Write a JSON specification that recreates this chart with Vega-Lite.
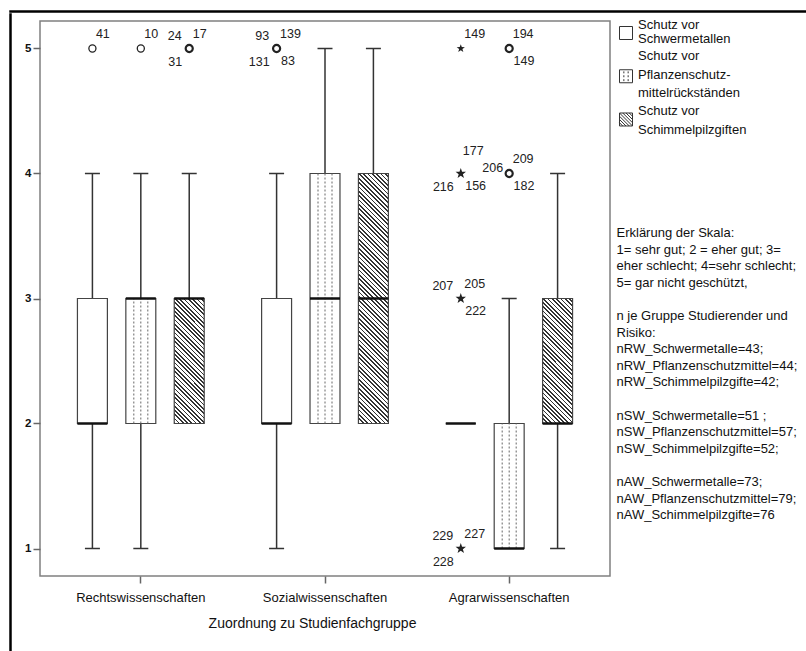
{
  "$schema": "https://vega.github.io/schema/vega-lite/v6.json",
  "padding": {"left": 9, "top": 10, "right": 0, "bottom": 0},
  "background": "white",
  "config": {
    "font": "Liberation Sans",
    "view": {"stroke": "#808080", "strokeWidth": 1.5},
    "axis": {"grid": false}
  },
  "datasets": {
    "box": [
      {"g": "Rechtswissenschaften", "s": "Schwermetalle", "lo": 1, "q1": 2, "med": 2, "q3": 3, "hi": 4},
      {"g": "Rechtswissenschaften", "s": "Pflanzenschutzmittel", "lo": 1, "q1": 2, "med": 3, "q3": 3, "hi": 4},
      {"g": "Rechtswissenschaften", "s": "Schimmelpilzgifte", "lo": 2, "q1": 2, "med": 3, "q3": 3, "hi": 4},
      {"g": "Sozialwissenschaften", "s": "Schwermetalle", "lo": 1, "q1": 2, "med": 2, "q3": 3, "hi": 4},
      {"g": "Sozialwissenschaften", "s": "Pflanzenschutzmittel", "lo": 2, "q1": 2, "med": 3, "q3": 4, "hi": 5},
      {"g": "Sozialwissenschaften", "s": "Schimmelpilzgifte", "lo": 2, "q1": 2, "med": 3, "q3": 4, "hi": 5},
      {"g": "Agrarwissenschaften", "s": "Schwermetalle", "lo": 2, "q1": 2, "med": 2, "q3": 2, "hi": 2},
      {"g": "Agrarwissenschaften", "s": "Pflanzenschutzmittel", "lo": 1, "q1": 1, "med": 1, "q3": 2, "hi": 3},
      {"g": "Agrarwissenschaften", "s": "Schimmelpilzgifte", "lo": 1, "q1": 2, "med": 2, "q3": 3, "hi": 4}
    ],
    "cases": [
      {"g": "Rechtswissenschaften", "s": "Schwermetalle", "v": 5, "kind": "o", "id": "41", "pos": "ur"},
      {"g": "Rechtswissenschaften", "s": "Pflanzenschutzmittel", "v": 5, "kind": "o", "id": "10", "pos": "ur"},
      {"g": "Rechtswissenschaften", "s": "Schimmelpilzgifte", "v": 5, "kind": "o", "id": "24", "pos": "ul"},
      {"g": "Rechtswissenschaften", "s": "Schimmelpilzgifte", "v": 5, "kind": "o", "id": "17", "pos": "ur"},
      {"g": "Rechtswissenschaften", "s": "Schimmelpilzgifte", "v": 5, "kind": "o", "id": "31", "pos": "ll"},
      {"g": "Sozialwissenschaften", "s": "Schwermetalle", "v": 5, "kind": "o", "id": "93", "pos": "ul"},
      {"g": "Sozialwissenschaften", "s": "Schwermetalle", "v": 5, "kind": "o", "id": "139", "pos": "ur"},
      {"g": "Sozialwissenschaften", "s": "Schwermetalle", "v": 5, "kind": "o", "id": "131", "pos": "ll"},
      {"g": "Sozialwissenschaften", "s": "Schwermetalle", "v": 5, "kind": "o", "id": "83", "pos": "lr"},
      {"g": "Agrarwissenschaften", "s": "Schwermetalle", "v": 5, "kind": "*", "id": "149", "pos": "ur"},
      {"g": "Agrarwissenschaften", "s": "Schwermetalle", "v": 4, "kind": "*", "id": "177", "pos": "top"},
      {"g": "Agrarwissenschaften", "s": "Schwermetalle", "v": 4, "kind": "*", "id": "216", "pos": "ll"},
      {"g": "Agrarwissenschaften", "s": "Schwermetalle", "v": 4, "kind": "*", "id": "156", "pos": "lr"},
      {"g": "Agrarwissenschaften", "s": "Schwermetalle", "v": 3, "kind": "*", "id": "207", "pos": "ul"},
      {"g": "Agrarwissenschaften", "s": "Schwermetalle", "v": 3, "kind": "*", "id": "205", "pos": "ur"},
      {"g": "Agrarwissenschaften", "s": "Schwermetalle", "v": 3, "kind": "*", "id": "222", "pos": "lr"},
      {"g": "Agrarwissenschaften", "s": "Schwermetalle", "v": 1, "kind": "*", "id": "229", "pos": "ul"},
      {"g": "Agrarwissenschaften", "s": "Schwermetalle", "v": 1, "kind": "*", "id": "227", "pos": "ur"},
      {"g": "Agrarwissenschaften", "s": "Schwermetalle", "v": 1, "kind": "*", "id": "228", "pos": "ll"},
      {"g": "Agrarwissenschaften", "s": "Pflanzenschutzmittel", "v": 5, "kind": "o", "id": "194", "pos": "ur"},
      {"g": "Agrarwissenschaften", "s": "Pflanzenschutzmittel", "v": 5, "kind": "o", "id": "149", "pos": "lr"},
      {"g": "Agrarwissenschaften", "s": "Pflanzenschutzmittel", "v": 4, "kind": "o", "id": "206", "pos": "l"},
      {"g": "Agrarwissenschaften", "s": "Pflanzenschutzmittel", "v": 4, "kind": "o", "id": "209", "pos": "ur"},
      {"g": "Agrarwissenschaften", "s": "Pflanzenschutzmittel", "v": 4, "kind": "o", "id": "182", "pos": "lr"}
    ],
    "legend": [
      {"s": "Schwermetalle", "label": "Schutz vor|Schwermetallen"},
      {"s": "Pflanzenschutzmittel", "label": "Schutz vor|Pflanzenschutz-|mittelrückständen"},
      {"s": "Schimmelpilzgifte", "label": "Schutz vor|Schimmelpilzgiften"}
    ],
    "expl": [
      {"i": 0, "t": "Erklärung der Skala:"},
      {"i": 1, "t": "1= sehr gut; 2 = eher gut; 3="},
      {"i": 2, "t": "eher schlecht; 4=sehr schlecht;"},
      {"i": 3, "t": "5= gar nicht geschützt,"},
      {"i": 4, "t": ""},
      {"i": 5, "t": "n je Gruppe Studierender und"},
      {"i": 6, "t": "Risiko:"},
      {"i": 7, "t": "nRW_Schwermetalle=43;"},
      {"i": 8, "t": "nRW_Pflanzenschutzmittel=44;"},
      {"i": 9, "t": "nRW_Schimmelpilzgifte=42;"},
      {"i": 10, "t": ""},
      {"i": 11, "t": "nSW_Schwermetalle=51 ;"},
      {"i": 12, "t": "nSW_Pflanzenschutzmittel=57;"},
      {"i": 13, "t": "nSW_Schimmelpilzgifte=52;"},
      {"i": 14, "t": ""},
      {"i": 15, "t": "nAW_Schwermetalle=73;"},
      {"i": 16, "t": "nAW_Pflanzenschutzmittel=79;"},
      {"i": 17, "t": "nAW_Schimmelpilzgifte=76"}
    ]
  },
  "spacing": 0,
  "vconcat": [
    {
      "width": 797, "height": 1,
      "view": {"stroke": "#000", "strokeWidth": 1.5},
      "data": {"values": []},
      "mark": "text",
      "encoding": {}
    },
    {
      "spacing": 0,
      "hconcat": [
        {
          "width": 1, "height": 640,
          "view": {"stroke": "#000", "strokeWidth": 1.5},
          "data": {"values": []},
          "mark": "text",
          "encoding": {}
        },
        {
          "spacing": 3,
          "vconcat": [
            {
              "width": 1, "height": 1,
              "view": {"stroke": null},
              "data": {"values": []},
              "mark": "text",
              "encoding": {}
            },
            {
              "spacing": 5,
              "hconcat": [
                {
                  "width": 570,
                  "height": 555,
                  "encoding": {
                    "x": {
                      "field": "g", "type": "nominal",
                      "scale": {"domain": ["Rechtswissenschaften", "Sozialwissenschaften", "Agrarwissenschaften"], "paddingInner": 0, "paddingOuter": 0.0474},
                      "axis": {
                        "title": "Zuordnung zu Studienfachgruppe", "labelAngle": 0, "domain": false,
                        "tickSize": 7, "tickColor": "#666", "tickWidth": 1.5,
                        "labelFontSize": 13, "labelColor": "#111", "labelPadding": 8,
                        "titleFontSize": 14, "titleFontWeight": "normal", "titleColor": "#111", "titlePadding": 12, "titleX": 272
                      }
                    }
                  },
                  "layer": [
                    {
                      "data": {"name": "box"},
                      "transform": [{"filter": "datum.lo < datum.q1"}],
                      "mark": {"type": "rule", "color": "#333", "strokeWidth": 1.5},
                      "encoding": {
                        "xOffset": {"field": "s", "type": "nominal", "scale": {"domain": ["Schwermetalle", "Pflanzenschutzmittel", "Schimmelpilzgifte"], "paddingInner": 0.381, "paddingOuter": 0.593}},
                        "y": {"field": "lo", "type": "quantitative", "scale": {"domain": [0.78, 5.22], "nice": false, "zero": false},
                          "axis": {"title": null, "values": [1, 2, 3, 4, 5], "format": "d", "domain": false, "minExtent": 27, "tickSize": 7, "tickColor": "#666", "tickWidth": 1.5, "labelFontWeight": "bold", "labelFontSize": 11.5, "labelColor": "#111", "labelPadding": 2}},
                        "y2": {"field": "q1"}
                      }
                    },
                    {
                      "data": {"name": "box"},
                      "transform": [{"filter": "datum.hi > datum.q3"}],
                      "mark": {"type": "rule", "color": "#333", "strokeWidth": 1.5},
                      "encoding": {
                        "xOffset": {"field": "s", "type": "nominal"},
                        "y": {"field": "q3", "type": "quantitative"},
                        "y2": {"field": "hi"}
                      }
                    },
                    {
                      "data": {"name": "box"},
                      "transform": [{"filter": "datum.lo < datum.q1"}],
                      "mark": {"type": "tick", "color": "#333", "thickness": 1.5, "size": 15, "opacity": 1},
                      "encoding": {
                        "xOffset": {"field": "s", "type": "nominal"},
                        "y": {"field": "lo", "type": "quantitative"}
                      }
                    },
                    {
                      "data": {"name": "box"},
                      "transform": [{"filter": "datum.hi > datum.q3"}],
                      "mark": {"type": "tick", "color": "#333", "thickness": 1.5, "size": 15, "opacity": 1},
                      "encoding": {
                        "xOffset": {"field": "s", "type": "nominal"},
                        "y": {"field": "hi", "type": "quantitative"}
                      }
                    },
                    {
                      "data": {"name": "box"},
                      "transform": [{"filter": "datum.s !== 'Schimmelpilzgifte'"}],
                      "mark": {"type": "bar", "fill": "white", "stroke": "#444", "strokeWidth": 1.2},
                      "encoding": {
                        "xOffset": {"field": "s", "type": "nominal"},
                        "y": {"field": "q1", "type": "quantitative"},
                        "y2": {"field": "q3"}
                      }
                    },
                    {
                      "data": {"name": "box"},
                      "transform": [{"filter": "datum.s === 'Pflanzenschutzmittel'"}],
                      "mark": {"type": "rule", "color": "#666", "strokeWidth": 1, "strokeDash": [2, 2], "xOffset": -7},
                      "encoding": {"y": {"field": "q1", "type": "quantitative"}, "y2": {"field": "q3"}}
                    },
                    {
                      "data": {"name": "box"},
                      "transform": [{"filter": "datum.s === 'Pflanzenschutzmittel'"}],
                      "mark": {"type": "rule", "color": "#666", "strokeWidth": 1, "strokeDash": [2, 2]},
                      "encoding": {"y": {"field": "q1", "type": "quantitative"}, "y2": {"field": "q3"}}
                    },
                    {
                      "data": {"name": "box"},
                      "transform": [{"filter": "datum.s === 'Pflanzenschutzmittel'"}],
                      "mark": {"type": "rule", "color": "#666", "strokeWidth": 1, "strokeDash": [2, 2], "xOffset": 7},
                      "encoding": {"y": {"field": "q1", "type": "quantitative"}, "y2": {"field": "q3"}}
                    },
                    {
                      "data": {"name": "box"},
                      "transform": [{"filter": "datum.s === 'Schimmelpilzgifte' && datum.q3 - datum.q1 === 1"}],
                      "mark": {"type": "bar", "stroke": "#444", "strokeWidth": 1.2,
                        "fill": {"gradient": "linear", "x1": 0, "y1": 1, "x2": 0.2814, "y2": -0.1725, "stops": [
{"offset":0,"color":"#333"},{"offset":0.0111,"color":"#333"},{"offset":0.0111,"color":"#fff"},{"offset":0.0278,"color":"#fff"},
{"offset":0.0278,"color":"#333"},{"offset":0.0389,"color":"#333"},{"offset":0.0389,"color":"#fff"},{"offset":0.0556,"color":"#fff"},
{"offset":0.0556,"color":"#333"},{"offset":0.0667,"color":"#333"},{"offset":0.0667,"color":"#fff"},{"offset":0.0833,"color":"#fff"},
{"offset":0.0833,"color":"#333"},{"offset":0.0944,"color":"#333"},{"offset":0.0944,"color":"#fff"},{"offset":0.1111,"color":"#fff"},
{"offset":0.1111,"color":"#333"},{"offset":0.1222,"color":"#333"},{"offset":0.1222,"color":"#fff"},{"offset":0.1389,"color":"#fff"},
{"offset":0.1389,"color":"#333"},{"offset":0.15,"color":"#333"},{"offset":0.15,"color":"#fff"},{"offset":0.1667,"color":"#fff"},
{"offset":0.1667,"color":"#333"},{"offset":0.1778,"color":"#333"},{"offset":0.1778,"color":"#fff"},{"offset":0.1944,"color":"#fff"},
{"offset":0.1944,"color":"#333"},{"offset":0.2056,"color":"#333"},{"offset":0.2056,"color":"#fff"},{"offset":0.2222,"color":"#fff"},
{"offset":0.2222,"color":"#333"},{"offset":0.2333,"color":"#333"},{"offset":0.2333,"color":"#fff"},{"offset":0.25,"color":"#fff"},
{"offset":0.25,"color":"#333"},{"offset":0.2611,"color":"#333"},{"offset":0.2611,"color":"#fff"},{"offset":0.2778,"color":"#fff"},
{"offset":0.2778,"color":"#333"},{"offset":0.2889,"color":"#333"},{"offset":0.2889,"color":"#fff"},{"offset":0.3056,"color":"#fff"},
{"offset":0.3056,"color":"#333"},{"offset":0.3167,"color":"#333"},{"offset":0.3167,"color":"#fff"},{"offset":0.3333,"color":"#fff"},
{"offset":0.3333,"color":"#333"},{"offset":0.3444,"color":"#333"},{"offset":0.3444,"color":"#fff"},{"offset":0.3611,"color":"#fff"},
{"offset":0.3611,"color":"#333"},{"offset":0.3722,"color":"#333"},{"offset":0.3722,"color":"#fff"},{"offset":0.3889,"color":"#fff"},
{"offset":0.3889,"color":"#333"},{"offset":0.4,"color":"#333"},{"offset":0.4,"color":"#fff"},{"offset":0.4167,"color":"#fff"},
{"offset":0.4167,"color":"#333"},{"offset":0.4278,"color":"#333"},{"offset":0.4278,"color":"#fff"},{"offset":0.4444,"color":"#fff"},
{"offset":0.4444,"color":"#333"},{"offset":0.4556,"color":"#333"},{"offset":0.4556,"color":"#fff"},{"offset":0.4722,"color":"#fff"},
{"offset":0.4722,"color":"#333"},{"offset":0.4833,"color":"#333"},{"offset":0.4833,"color":"#fff"},{"offset":0.5,"color":"#fff"},
{"offset":0.5,"color":"#333"},{"offset":0.5111,"color":"#333"},{"offset":0.5111,"color":"#fff"},{"offset":0.5278,"color":"#fff"},
{"offset":0.5278,"color":"#333"},{"offset":0.5389,"color":"#333"},{"offset":0.5389,"color":"#fff"},{"offset":0.5556,"color":"#fff"},
{"offset":0.5556,"color":"#333"},{"offset":0.5667,"color":"#333"},{"offset":0.5667,"color":"#fff"},{"offset":0.5833,"color":"#fff"},
{"offset":0.5833,"color":"#333"},{"offset":0.5944,"color":"#333"},{"offset":0.5944,"color":"#fff"},{"offset":0.6111,"color":"#fff"},
{"offset":0.6111,"color":"#333"},{"offset":0.6222,"color":"#333"},{"offset":0.6222,"color":"#fff"},{"offset":0.6389,"color":"#fff"},
{"offset":0.6389,"color":"#333"},{"offset":0.65,"color":"#333"},{"offset":0.65,"color":"#fff"},{"offset":0.6667,"color":"#fff"},
{"offset":0.6667,"color":"#333"},{"offset":0.6778,"color":"#333"},{"offset":0.6778,"color":"#fff"},{"offset":0.6944,"color":"#fff"},
{"offset":0.6944,"color":"#333"},{"offset":0.7056,"color":"#333"},{"offset":0.7056,"color":"#fff"},{"offset":0.7222,"color":"#fff"},
{"offset":0.7222,"color":"#333"},{"offset":0.7333,"color":"#333"},{"offset":0.7333,"color":"#fff"},{"offset":0.75,"color":"#fff"},
{"offset":0.75,"color":"#333"},{"offset":0.7611,"color":"#333"},{"offset":0.7611,"color":"#fff"},{"offset":0.7778,"color":"#fff"},
{"offset":0.7778,"color":"#333"},{"offset":0.7889,"color":"#333"},{"offset":0.7889,"color":"#fff"},{"offset":0.8056,"color":"#fff"},
{"offset":0.8056,"color":"#333"},{"offset":0.8167,"color":"#333"},{"offset":0.8167,"color":"#fff"},{"offset":0.8333,"color":"#fff"},
{"offset":0.8333,"color":"#333"},{"offset":0.8444,"color":"#333"},{"offset":0.8444,"color":"#fff"},{"offset":0.8611,"color":"#fff"},
{"offset":0.8611,"color":"#333"},{"offset":0.8722,"color":"#333"},{"offset":0.8722,"color":"#fff"},{"offset":0.8889,"color":"#fff"},
{"offset":0.8889,"color":"#333"},{"offset":0.9,"color":"#333"},{"offset":0.9,"color":"#fff"},{"offset":0.9167,"color":"#fff"},
{"offset":0.9167,"color":"#333"},{"offset":0.9278,"color":"#333"},{"offset":0.9278,"color":"#fff"},{"offset":0.9444,"color":"#fff"},
{"offset":0.9444,"color":"#333"},{"offset":0.9556,"color":"#333"},{"offset":0.9556,"color":"#fff"},{"offset":0.9722,"color":"#fff"},
{"offset":0.9722,"color":"#333"},{"offset":0.9833,"color":"#333"},{"offset":0.9833,"color":"#fff"},{"offset":1,"color":"#fff"}
                        ]}},
                      "encoding": {
                        "xOffset": {"field": "s", "type": "nominal"},
                        "y": {"field": "q1", "type": "quantitative"},
                        "y2": {"field": "q3"}
                      }
                    },
                    {
                      "data": {"name": "box"},
                      "transform": [{"filter": "datum.s === 'Schimmelpilzgifte' && datum.q3 - datum.q1 === 2"}],
                      "mark": {"type": "bar", "stroke": "#444", "strokeWidth": 1.2,
                        "fill": {"gradient": "linear", "x1": 0, "y1": 1, "x2": 0.1325, "y2": -0.1041, "stops": [
{"offset":0,"color":"#333"},{"offset":0.00625,"color":"#333"},{"offset":0.00625,"color":"#fff"},{"offset":0.015625,"color":"#fff"},
{"offset":0.015625,"color":"#333"},{"offset":0.021875,"color":"#333"},{"offset":0.021875,"color":"#fff"},{"offset":0.03125,"color":"#fff"},
{"offset":0.03125,"color":"#333"},{"offset":0.0375,"color":"#333"},{"offset":0.0375,"color":"#fff"},{"offset":0.046875,"color":"#fff"},
{"offset":0.046875,"color":"#333"},{"offset":0.053125,"color":"#333"},{"offset":0.053125,"color":"#fff"},{"offset":0.0625,"color":"#fff"},
{"offset":0.0625,"color":"#333"},{"offset":0.06875,"color":"#333"},{"offset":0.06875,"color":"#fff"},{"offset":0.078125,"color":"#fff"},
{"offset":0.078125,"color":"#333"},{"offset":0.084375,"color":"#333"},{"offset":0.084375,"color":"#fff"},{"offset":0.09375,"color":"#fff"},
{"offset":0.09375,"color":"#333"},{"offset":0.1,"color":"#333"},{"offset":0.1,"color":"#fff"},{"offset":0.109375,"color":"#fff"},
{"offset":0.109375,"color":"#333"},{"offset":0.115625,"color":"#333"},{"offset":0.115625,"color":"#fff"},{"offset":0.125,"color":"#fff"},
{"offset":0.125,"color":"#333"},{"offset":0.13125,"color":"#333"},{"offset":0.13125,"color":"#fff"},{"offset":0.140625,"color":"#fff"},
{"offset":0.140625,"color":"#333"},{"offset":0.146875,"color":"#333"},{"offset":0.146875,"color":"#fff"},{"offset":0.15625,"color":"#fff"},
{"offset":0.15625,"color":"#333"},{"offset":0.1625,"color":"#333"},{"offset":0.1625,"color":"#fff"},{"offset":0.171875,"color":"#fff"},
{"offset":0.171875,"color":"#333"},{"offset":0.178125,"color":"#333"},{"offset":0.178125,"color":"#fff"},{"offset":0.1875,"color":"#fff"},
{"offset":0.1875,"color":"#333"},{"offset":0.19375,"color":"#333"},{"offset":0.19375,"color":"#fff"},{"offset":0.203125,"color":"#fff"},
{"offset":0.203125,"color":"#333"},{"offset":0.209375,"color":"#333"},{"offset":0.209375,"color":"#fff"},{"offset":0.21875,"color":"#fff"},
{"offset":0.21875,"color":"#333"},{"offset":0.225,"color":"#333"},{"offset":0.225,"color":"#fff"},{"offset":0.234375,"color":"#fff"},
{"offset":0.234375,"color":"#333"},{"offset":0.240625,"color":"#333"},{"offset":0.240625,"color":"#fff"},{"offset":0.25,"color":"#fff"},
{"offset":0.25,"color":"#333"},{"offset":0.25625,"color":"#333"},{"offset":0.25625,"color":"#fff"},{"offset":0.265625,"color":"#fff"},
{"offset":0.265625,"color":"#333"},{"offset":0.271875,"color":"#333"},{"offset":0.271875,"color":"#fff"},{"offset":0.28125,"color":"#fff"},
{"offset":0.28125,"color":"#333"},{"offset":0.2875,"color":"#333"},{"offset":0.2875,"color":"#fff"},{"offset":0.296875,"color":"#fff"},
{"offset":0.296875,"color":"#333"},{"offset":0.303125,"color":"#333"},{"offset":0.303125,"color":"#fff"},{"offset":0.3125,"color":"#fff"},
{"offset":0.3125,"color":"#333"},{"offset":0.31875,"color":"#333"},{"offset":0.31875,"color":"#fff"},{"offset":0.328125,"color":"#fff"},
{"offset":0.328125,"color":"#333"},{"offset":0.334375,"color":"#333"},{"offset":0.334375,"color":"#fff"},{"offset":0.34375,"color":"#fff"},
{"offset":0.34375,"color":"#333"},{"offset":0.35,"color":"#333"},{"offset":0.35,"color":"#fff"},{"offset":0.359375,"color":"#fff"},
{"offset":0.359375,"color":"#333"},{"offset":0.365625,"color":"#333"},{"offset":0.365625,"color":"#fff"},{"offset":0.375,"color":"#fff"},
{"offset":0.375,"color":"#333"},{"offset":0.38125,"color":"#333"},{"offset":0.38125,"color":"#fff"},{"offset":0.390625,"color":"#fff"},
{"offset":0.390625,"color":"#333"},{"offset":0.396875,"color":"#333"},{"offset":0.396875,"color":"#fff"},{"offset":0.40625,"color":"#fff"},
{"offset":0.40625,"color":"#333"},{"offset":0.4125,"color":"#333"},{"offset":0.4125,"color":"#fff"},{"offset":0.421875,"color":"#fff"},
{"offset":0.421875,"color":"#333"},{"offset":0.428125,"color":"#333"},{"offset":0.428125,"color":"#fff"},{"offset":0.4375,"color":"#fff"},
{"offset":0.4375,"color":"#333"},{"offset":0.44375,"color":"#333"},{"offset":0.44375,"color":"#fff"},{"offset":0.453125,"color":"#fff"},
{"offset":0.453125,"color":"#333"},{"offset":0.459375,"color":"#333"},{"offset":0.459375,"color":"#fff"},{"offset":0.46875,"color":"#fff"},
{"offset":0.46875,"color":"#333"},{"offset":0.475,"color":"#333"},{"offset":0.475,"color":"#fff"},{"offset":0.484375,"color":"#fff"},
{"offset":0.484375,"color":"#333"},{"offset":0.490625,"color":"#333"},{"offset":0.490625,"color":"#fff"},{"offset":0.5,"color":"#fff"},
{"offset":0.5,"color":"#333"},{"offset":0.50625,"color":"#333"},{"offset":0.50625,"color":"#fff"},{"offset":0.515625,"color":"#fff"},
{"offset":0.515625,"color":"#333"},{"offset":0.521875,"color":"#333"},{"offset":0.521875,"color":"#fff"},{"offset":0.53125,"color":"#fff"},
{"offset":0.53125,"color":"#333"},{"offset":0.5375,"color":"#333"},{"offset":0.5375,"color":"#fff"},{"offset":0.546875,"color":"#fff"},
{"offset":0.546875,"color":"#333"},{"offset":0.553125,"color":"#333"},{"offset":0.553125,"color":"#fff"},{"offset":0.5625,"color":"#fff"},
{"offset":0.5625,"color":"#333"},{"offset":0.56875,"color":"#333"},{"offset":0.56875,"color":"#fff"},{"offset":0.578125,"color":"#fff"},
{"offset":0.578125,"color":"#333"},{"offset":0.584375,"color":"#333"},{"offset":0.584375,"color":"#fff"},{"offset":0.59375,"color":"#fff"},
{"offset":0.59375,"color":"#333"},{"offset":0.6,"color":"#333"},{"offset":0.6,"color":"#fff"},{"offset":0.609375,"color":"#fff"},
{"offset":0.609375,"color":"#333"},{"offset":0.615625,"color":"#333"},{"offset":0.615625,"color":"#fff"},{"offset":0.625,"color":"#fff"},
{"offset":0.625,"color":"#333"},{"offset":0.63125,"color":"#333"},{"offset":0.63125,"color":"#fff"},{"offset":0.640625,"color":"#fff"},
{"offset":0.640625,"color":"#333"},{"offset":0.646875,"color":"#333"},{"offset":0.646875,"color":"#fff"},{"offset":0.65625,"color":"#fff"},
{"offset":0.65625,"color":"#333"},{"offset":0.6625,"color":"#333"},{"offset":0.6625,"color":"#fff"},{"offset":0.671875,"color":"#fff"},
{"offset":0.671875,"color":"#333"},{"offset":0.678125,"color":"#333"},{"offset":0.678125,"color":"#fff"},{"offset":0.6875,"color":"#fff"},
{"offset":0.6875,"color":"#333"},{"offset":0.69375,"color":"#333"},{"offset":0.69375,"color":"#fff"},{"offset":0.703125,"color":"#fff"},
{"offset":0.703125,"color":"#333"},{"offset":0.709375,"color":"#333"},{"offset":0.709375,"color":"#fff"},{"offset":0.71875,"color":"#fff"},
{"offset":0.71875,"color":"#333"},{"offset":0.725,"color":"#333"},{"offset":0.725,"color":"#fff"},{"offset":0.734375,"color":"#fff"},
{"offset":0.734375,"color":"#333"},{"offset":0.740625,"color":"#333"},{"offset":0.740625,"color":"#fff"},{"offset":0.75,"color":"#fff"},
{"offset":0.75,"color":"#333"},{"offset":0.75625,"color":"#333"},{"offset":0.75625,"color":"#fff"},{"offset":0.765625,"color":"#fff"},
{"offset":0.765625,"color":"#333"},{"offset":0.771875,"color":"#333"},{"offset":0.771875,"color":"#fff"},{"offset":0.78125,"color":"#fff"},
{"offset":0.78125,"color":"#333"},{"offset":0.7875,"color":"#333"},{"offset":0.7875,"color":"#fff"},{"offset":0.796875,"color":"#fff"},
{"offset":0.796875,"color":"#333"},{"offset":0.803125,"color":"#333"},{"offset":0.803125,"color":"#fff"},{"offset":0.8125,"color":"#fff"},
{"offset":0.8125,"color":"#333"},{"offset":0.81875,"color":"#333"},{"offset":0.81875,"color":"#fff"},{"offset":0.828125,"color":"#fff"},
{"offset":0.828125,"color":"#333"},{"offset":0.834375,"color":"#333"},{"offset":0.834375,"color":"#fff"},{"offset":0.84375,"color":"#fff"},
{"offset":0.84375,"color":"#333"},{"offset":0.85,"color":"#333"},{"offset":0.85,"color":"#fff"},{"offset":0.859375,"color":"#fff"},
{"offset":0.859375,"color":"#333"},{"offset":0.865625,"color":"#333"},{"offset":0.865625,"color":"#fff"},{"offset":0.875,"color":"#fff"},
{"offset":0.875,"color":"#333"},{"offset":0.88125,"color":"#333"},{"offset":0.88125,"color":"#fff"},{"offset":0.890625,"color":"#fff"},
{"offset":0.890625,"color":"#333"},{"offset":0.896875,"color":"#333"},{"offset":0.896875,"color":"#fff"},{"offset":0.90625,"color":"#fff"},
{"offset":0.90625,"color":"#333"},{"offset":0.9125,"color":"#333"},{"offset":0.9125,"color":"#fff"},{"offset":0.921875,"color":"#fff"},
{"offset":0.921875,"color":"#333"},{"offset":0.928125,"color":"#333"},{"offset":0.928125,"color":"#fff"},{"offset":0.9375,"color":"#fff"},
{"offset":0.9375,"color":"#333"},{"offset":0.94375,"color":"#333"},{"offset":0.94375,"color":"#fff"},{"offset":0.953125,"color":"#fff"},
{"offset":0.953125,"color":"#333"},{"offset":0.959375,"color":"#333"},{"offset":0.959375,"color":"#fff"},{"offset":0.96875,"color":"#fff"},
{"offset":0.96875,"color":"#333"},{"offset":0.975,"color":"#333"},{"offset":0.975,"color":"#fff"},{"offset":0.984375,"color":"#fff"},
{"offset":0.984375,"color":"#333"},{"offset":0.990625,"color":"#333"},{"offset":0.990625,"color":"#fff"},{"offset":1,"color":"#fff"}
                        ]}},
                      "encoding": {
                        "xOffset": {"field": "s", "type": "nominal"},
                        "y": {"field": "q1", "type": "quantitative"},
                        "y2": {"field": "q3"}
                      }
                    },
                    {
                      "data": {"name": "box"},
                      "mark": {"type": "tick", "color": "#111", "thickness": 2.5, "size": 30, "opacity": 1},
                      "encoding": {
                        "xOffset": {"field": "s", "type": "nominal"},
                        "y": {"field": "med", "type": "quantitative"}
                      }
                    },
                    {
                      "data": {"name": "cases"},
                      "transform": [
                        {"aggregate": [{"op": "count", "as": "n"}], "groupby": ["g", "s", "v", "kind"]},
                        {"filter": "datum.kind === 'o'"}
                      ],
                      "mark": {"type": "point", "shape": "circle", "filled": false, "stroke": "#222", "size": 50, "opacity": 1},
                      "encoding": {
                        "xOffset": {"field": "s", "type": "nominal"},
                        "y": {"field": "v", "type": "quantitative"},
                        "strokeWidth": {"condition": {"test": "datum.n > 1", "value": 2.2}, "value": 1.3}
                      }
                    },
                    {
                      "data": {"name": "cases"},
                      "transform": [
                        {"aggregate": [{"op": "count", "as": "n"}], "groupby": ["g", "s", "v", "kind"]},
                        {"filter": "datum.kind === '*'"}
                      ],
                      "mark": {"type": "point", "shape": "M0,-1L0.235,-0.324L0.951,-0.309L0.38,0.124L0.588,0.809L0,0.4L-0.588,0.809L-0.38,0.124L-0.951,-0.309L-0.235,-0.324Z", "filled": true, "fill": "#222", "opacity": 1},
                      "encoding": {
                        "xOffset": {"field": "s", "type": "nominal"},
                        "y": {"field": "v", "type": "quantitative"},
                        "size": {"condition": {"test": "datum.n > 1", "value": 120}, "value": 75}
                      }
                    },
                    {
                      "data": {"name": "cases"},
                      "transform": [{"filter": "datum.pos === 'ur'"}],
                      "mark": {"type": "text", "align": "left", "baseline": "middle", "dx": 3.5, "dy": -14.5, "fontSize": 12.5, "color": "#222"},
                      "encoding": {"xOffset": {"field": "s", "type": "nominal"}, "y": {"field": "v", "type": "quantitative"}, "text": {"field": "id"}}
                    },
                    {
                      "data": {"name": "cases"},
                      "transform": [{"filter": "datum.pos === 'ul'"}],
                      "mark": {"type": "text", "align": "right", "baseline": "middle", "dx": -7.5, "dy": -12.7, "fontSize": 12.5, "color": "#222"},
                      "encoding": {"xOffset": {"field": "s", "type": "nominal"}, "y": {"field": "v", "type": "quantitative"}, "text": {"field": "id"}}
                    },
                    {
                      "data": {"name": "cases"},
                      "transform": [{"filter": "datum.pos === 'lr'"}],
                      "mark": {"type": "text", "align": "left", "baseline": "middle", "dx": 4.4, "dy": 12.7, "fontSize": 12.5, "color": "#222"},
                      "encoding": {"xOffset": {"field": "s", "type": "nominal"}, "y": {"field": "v", "type": "quantitative"}, "text": {"field": "id"}}
                    },
                    {
                      "data": {"name": "cases"},
                      "transform": [{"filter": "datum.pos === 'll'"}],
                      "mark": {"type": "text", "align": "right", "baseline": "middle", "dx": -7, "dy": 13.3, "fontSize": 12.5, "color": "#222"},
                      "encoding": {"xOffset": {"field": "s", "type": "nominal"}, "y": {"field": "v", "type": "quantitative"}, "text": {"field": "id"}}
                    },
                    {
                      "data": {"name": "cases"},
                      "transform": [{"filter": "datum.pos === 'l'"}],
                      "mark": {"type": "text", "align": "right", "baseline": "middle", "dx": -6, "dy": -5.7, "fontSize": 12.5, "color": "#222"},
                      "encoding": {"xOffset": {"field": "s", "type": "nominal"}, "y": {"field": "v", "type": "quantitative"}, "text": {"field": "id"}}
                    },
                    {
                      "data": {"name": "cases"},
                      "transform": [{"filter": "datum.pos === 'top'"}],
                      "mark": {"type": "text", "align": "left", "baseline": "middle", "dx": 2, "dy": -22.7, "fontSize": 12.5, "color": "#222"},
                      "encoding": {"xOffset": {"field": "s", "type": "nominal"}, "y": {"field": "v", "type": "quantitative"}, "text": {"field": "id"}}
                    }
                  ]
                },
                {
                  "spacing": 90,
                  "vconcat": [
                    {
                      "width": 20,
                      "height": 110.5,
                      "view": {"stroke": null},
                      "data": {"name": "legend"},
                      "encoding": {
                        "y": {"field": "s", "type": "nominal", "scale": {"type": "point", "padding": 0.2775, "domain": ["Schwermetalle", "Pflanzenschutzmittel", "Schimmelpilzgifte"]}, "axis": null}
                      },
                      "layer": [
                        {
                          "mark": {"type": "point", "filled": false, "stroke": "#333", "strokeWidth": 1, "size": 169, "opacity": 1},
                          "encoding": {
                            "shape": {"field": "s", "type": "nominal", "legend": null, "scale": {
                              "domain": ["Schwermetalle", "Pflanzenschutzmittel", "Schimmelpilzgifte"],
                              "range": [
                                "M-1,-1H1V1H-1Z",
                                "M-1,-1H1V1H-1Z M-0.33,-0.75V-0.45 M-0.33,-0.15V0.15 M-0.33,0.45V0.75 M0.33,-0.75V-0.45 M0.33,-0.15V0.15 M0.33,0.45V0.75",
                                "M-1,-1H1V1H-1Z M-1,-1L1,1 M-0.5,-1L1,0.5 M0,-1L1,0 M0.5,-1L1,-0.5 M-1,-0.5L0.5,1 M-1,0L0,1 M-1,0.5L-0.5,1"
                              ]}}
                          }
                        },
                        {
                          "transform": [{"filter": "datum.s === 'Schwermetalle'"}],
                          "mark": {"type": "text", "align": "left", "baseline": "middle", "dx": 12, "dy": -8.5, "lineBreak": "|", "lineHeight": 14, "fontSize": 13, "color": "#111"},
                          "encoding": {"text": {"field": "label"}}
                        },
                        {
                          "transform": [{"filter": "datum.s === 'Pflanzenschutzmittel'"}],
                          "mark": {"type": "text", "align": "left", "baseline": "middle", "dx": 12, "dy": -20.25, "lineBreak": "|", "lineHeight": 18.5, "fontSize": 13, "color": "#111"},
                          "encoding": {"text": {"field": "label"}}
                        },
                        {
                          "transform": [{"filter": "datum.s === 'Schimmelpilzgifte'"}],
                          "mark": {"type": "text", "align": "left", "baseline": "middle", "dx": 12, "dy": -8.5, "lineBreak": "|", "lineHeight": 19, "fontSize": 13, "color": "#111"},
                          "encoding": {"text": {"field": "label"}}
                        }
                      ]
                    },
                    {
                      "width": 1,
                      "height": 282.2,
                      "view": {"stroke": null},
                      "data": {"name": "expl"},
                      "mark": {"type": "text", "align": "left", "baseline": "middle", "fontSize": 13, "color": "#111"},
                      "encoding": {
                        "y": {"field": "i", "type": "ordinal", "scale": {"type": "point", "padding": 0}, "axis": null},
                        "text": {"field": "t"}
                      }
                    }
                  ]
                }
              ]
            }
          ]
        }
      ]
    }
  ]
}
